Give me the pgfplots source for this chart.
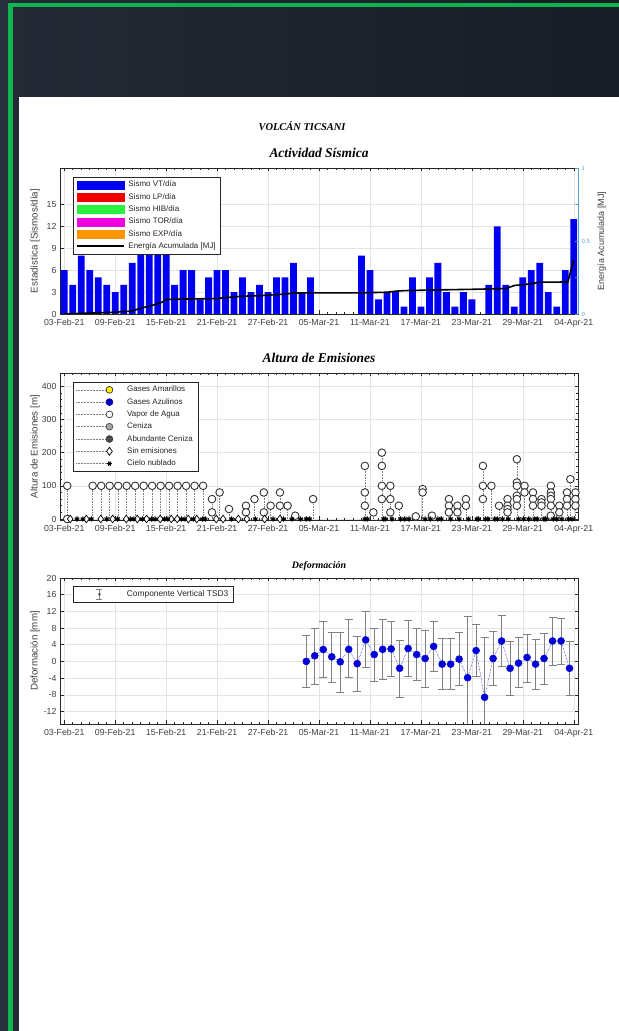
\documentclass[border=0pt]{standalone}
\usepackage{fontspec}
\setmainfont{Liberation Sans}
\newfontfamily\tnr{Liberation Serif}
\usepackage{pgfplots}
\pgfplotsset{compat=1.18}
\usepackage{pgfplotstable}

\definecolor{fondo}{RGB}{24,28,37}
\definecolor{fondoclaro}{RGB}{36,42,53}
\definecolor{franja}{RGB}{40,48,60}
\definecolor{verde}{RGB}{14,180,78}
\definecolor{ejes}{RGB}{38,38,38}
\definecolor{txt}{RGB}{64,64,64}
\definecolor{azulvt}{RGB}{0,0,240}
\definecolor{rojolp}{RGB}{240,0,0}
\definecolor{verdehib}{RGB}{40,240,60}
\definecolor{magtor}{RGB}{240,0,220}
\definecolor{naranja}{RGB}{255,150,0}
\definecolor{celeste}{RGB}{90,160,210}
\definecolor{azulpt}{RGB}{0,0,215}
\definecolor{gris}{RGB}{128,128,128}

% sismos VT por dia (dia 0 = 03-Feb-21)
\pgfplotstableread{
d v
0 6
1 4
2 8
3 6
4 5
5 4
6 3
7 4
8 7
9 10
10 11
11 10
12 9
13 4
14 6
15 6
16 2
17 5
18 6
19 6
20 3
21 5
22 3
23 4
24 3
25 5
26 5
27 7
28 3
29 5
35 8
36 6
37 2
38 3
39 3
40 1
41 5
42 1
43 5
44 7
45 3
46 1
47 3
48 2
50 4
51 12
52 4
53 1
54 5
55 6
56 7
57 3
58 1
59 6
60 13
}\sismos

% energia acumulada [MJ]
\pgfplotstableread{
d e
0 0
2 0.004
4 0.008
6 0.012
8 0.02
9 0.04
10 0.053
11 0.07
11.5 0.08
12 0.099
14 0.102
16 0.104
18 0.106
19 0.112
21 0.122
23 0.125
24 0.129
26 0.136
27 0.143
29 0.145
35 0.145
38 0.149
39 0.156
40 0.16
44 0.165
48 0.169
52 0.174
53 0.195
55 0.207
56 0.218
59.3 0.219
60 0.37
}\energia

% vapor de agua: altura [m]
\pgfplotstableread{
d h
0.35 100
0.35 0
3.35 100
4.35 100
5.35 100
6.35 100
7.35 100
8.35 100
9.35 100
10.35 100
11.35 100
12.35 100
13.35 100
14.35 100
15.35 100
16.35 100
17.4 60
17.4 20
18.3 80
19.4 30
21.4 40
21.4 20
22.4 60
23.5 80
23.5 20
24.3 40
25.4 80
25.4 40
26.3 40
27.2 10
29.3 60
35.4 160
35.4 80
35.4 40
36.4 20
37.4 200
37.4 160
37.4 100
37.4 60
38.4 100
38.4 60
38.4 20
39.4 40
41.4 8
42.2 90
42.2 80
43.3 10
45.3 60
45.3 40
45.3 20
46.3 40
46.3 20
47.3 60
47.3 40
49.3 160
49.3 100
49.3 60
50.3 100
51.2 40
52.2 60
52.2 40
52.2 30
52.2 20
53.3 180
53.3 110
53.3 100
53.3 70
53.3 60
53.3 40
54.2 100
54.2 80
55.2 80
55.2 60
55.2 40
56.2 60
56.2 50
56.2 40
57.3 100
57.3 80
57.3 70
57.3 60
57.3 40
57.3 10
58.3 40
58.3 20
59.2 80
59.2 60
59.2 40
59.6 120
60.2 80
60.2 60
60.2 40
}\vapor

\pgfplotstableread{
d h
0.7 0
2.6 0
4.3 0
5.7 0
7.3 0
8.6 0
9.7 0
11.3 0
12.6 0
13.3 0
14.6 0
15.6 0
17.9 0
18.7 0
20.5 0
21.5 0
23.6 0
25.4 0
}\sinemi

\pgfplotstableread{
d h
1.5 0
2.2 0
3.2 0
5.0 0
6.3 0
7.8 0
8.2 0
9.2 0
10.3 0
10.7 0
11.8 0
12.2 0
13.8 0
14.2 0
15.2 0
16.3 0
16.6 0
19.7 0
22.5 0
24.6 0
25.8 0
26.8 0
27.8 0
28.5 0
28.9 0
35.4 0
35.7 0
37.6 0
37.8 0
38.6 0
39.6 0
40.1 0
40.6 0
42.5 0
43.1 0
44.0 0
44.4 0
45.5 0
46.5 0
47.6 0
48.6 0
48.8 0
49.6 0
49.9 0
50.7 0
51.0 0
51.6 0
52.3 0
53.5 0
54.1 0
54.7 0
55.4 0
55.7 0
56.5 0
56.7 0
57.6 0
58.0 0
58.6 0
59.4 0
59.8 0
}\nublado

% deformacion vertical TSD3 [mm]
\pgfplotstableread{
d v ep em
28.5 0 6.3 6.1
29.5 1.35 6.65 6.75
30.5 2.85 6.65 6.55
31.5 1.1 6.0 6.1
32.5 -0.1 7.2 7.2
33.5 2.9 7.1 6.8
34.5 -0.55 6.55 6.65
35.5 5.15 6.75 6.5
36.5 1.65 6.35 6.4
37.5 2.9 7.2 7.1
38.5 3.0 6.7 6.5
39.5 -1.65 6.8 6.9
40.5 3.1 6.7 6.7
41.5 1.65 6.25 6.25
42.5 0.7 6.8 6.9
43.5 3.6 6.1 6.0
44.5 -0.65 6.15 6.05
45.5 -0.65 6.15 6.05
46.5 0.55 6.45 6.35
47.5 -3.9 14.8 14.8
48.5 2.6 6.2 6.2
49.5 -8.6 14.4 14.4
50.5 0.7 6.5 6.5
51.5 4.9 6.1 6.1
52.5 -1.65 6.55 6.45
53.5 -0.4 6.1 5.9
54.5 0.95 5.65 5.85
55.5 -0.65 5.95 5.95
56.5 0.7 6.1 6.1
57.5 4.9 5.6 5.85
58.5 4.9 5.4 5.7
59.5 -1.65 6.55 6.5
}\deform

\pgfplotsset{
  panel/.style={
    scale only axis, width=518bp, height=146bp,
    xmin=-0.5, xmax=60.5,
    xtick={0,6,...,60},
    xticklabels={03-Feb-21,09-Feb-21,15-Feb-21,21-Feb-21,27-Feb-21,05-Mar-21,11-Mar-21,17-Mar-21,23-Mar-21,29-Mar-21,04-Apr-21},
    minor x tick num=5,
    tick align=inside,
    major tick length=3.5bp, minor tick length=2bp,
    xmajorgrids, ymajorgrids,
    major grid style={gray!22, line width=0.5bp},
    axis line style={ejes, line width=0.6bp},
    tick style={ejes, line width=0.5bp},
    tick label style={font=\fontsize{8.8}{10}\selectfont, text=txt},
    xticklabel style={yshift=-1.5bp},
    /pgf/number format/assume math mode=true,
    every axis y label/.style={at={(axis description cs:-0.0483,0.5)}, rotate=90, anchor=center, font=\fontsize{9.8}{11}\selectfont, text=txt},
    title style={at={(axis description cs:0.5,1)}, anchor=base, yshift=5bp, font=\tnr\bfseries\itshape\fontsize{13.5}{15}\selectfont},
    legend cell align=left,
    legend style={anchor=north west, draw=ejes, line width=0.5bp, fill=white,
      font=\fontsize{8}{9}\selectfont, text=black!85,
      inner xsep=3bp, inner ysep=2bp, row sep=0.5bp, column sep=1.5bp,
      nodes={inner xsep=2bp, inner ysep=2bp, text height=6bp, text depth=1.8bp}},
  },
}

\begin{document}
\begin{tikzpicture}[x=1bp,y=1bp]
\useasboundingbox (0,0) rectangle (619,1031);
% fondo de la pagina
\shade[left color=fondoclaro, right color=fondo] (0,0) rectangle (619,1031);
\fill[franja] (0,0) rectangle (8,1031);
\fill[verde] (8,1023.7) rectangle (619,1028.3);
\fill[verde] (8,0) rectangle (12.7,1028.3);
\fill[white] (18.7,0) rectangle (619,934);
\node[font=\tnr\bfseries\itshape\fontsize{10.5}{12}\selectfont] at (302,905) {VOLCÁN TICSANI};

% ---- Actividad sismica ----
\begin{axis}[panel, at={(60bp,717bp)}, anchor=south west,
  ymin=0, ymax=20, ytick={0,3,...,15}, ytick pos=left,
  ylabel={Estadística [Sismos/día]},
  title={Actividad Sísmica},
  legend style={at={(0.0245,0.94)}}]
\addlegendimage{legend image code/.code={\fill[azulvt] (0bp,-4bp) rectangle (47bp,4bp);}}
\addlegendimage{legend image code/.code={\fill[rojolp] (0bp,-4bp) rectangle (47bp,4bp);}}
\addlegendimage{legend image code/.code={\fill[verdehib] (0bp,-4bp) rectangle (47bp,4bp);}}
\addlegendimage{legend image code/.code={\fill[magtor] (0bp,-4bp) rectangle (47bp,4bp);}}
\addlegendimage{legend image code/.code={\fill[naranja] (0bp,-4bp) rectangle (47bp,4bp);}}
\addlegendimage{legend image code/.code={\draw[black, line width=2bp] (0bp,0bp) -- (47bp,0bp);}}
\addplot[ybar, bar width=0.8, fill=azulvt, draw=none, forget plot] table[x=d, y=v] {\sismos};
\legend{Sismo VT/día, Sismo LP/día, Sismo HIB/día, Sismo TOR/día, Sismo EXP/día, Energía Acumulada [MJ]}
\end{axis}

\begin{axis}[scale only axis, width=518bp, height=146bp, at={(60bp,717bp)}, anchor=south west,
  xmin=-0.5, xmax=60.5, hide x axis, axis y line*=right,
  ymin=0, ymax=1, ytick={0,0.25,0.5,0.75,1}, yticklabels={0,,0.5,,1},
  tick align=inside, major tick length=3.5bp,
  y axis line style={celeste, line width=0.6bp}, ytick style={celeste, line width=0.5bp},
  yticklabel style={font=\fontsize{6}{7}\selectfont, text=celeste},
  /pgf/number format/assume math mode=true,
  ylabel={Energía Acumulada [MJ]},
  every axis y label/.style={at={(axis description cs:1.0457,0.5)}, rotate=90, anchor=center, font=\fontsize{9}{10}\selectfont, text=txt}]
\addplot[black, line width=1.6bp] table[x=d, y=e] {\energia};
\end{axis}

% ---- Altura de emisiones ----
\begin{axis}[panel, height=147bp, at={(60bp,511bp)}, anchor=south west,
  ymin=-3, ymax=440, ytick={0,100,...,400}, minor y tick num=4,
  ylabel={Altura de Emisiones [m]}, title={Altura de Emisiones}, clip=false,
  legend style={at={(0.025,0.941)}}]
\addlegendimage{legend image code/.code={\draw[gris, densely dotted] (0bp,0bp) -- (33bp,0bp); \draw[black!80, fill=yellow, line width=0.7bp] (33bp,0bp) circle (3.4bp); \path (47bp,0bp);}}
\addlegendimage{legend image code/.code={\draw[gris, densely dotted] (0bp,0bp) -- (33bp,0bp); \draw[blue!70!black, fill=blue!75!black, line width=0.7bp] (33bp,0bp) circle (3.4bp); \path (47bp,0bp);}}
\addlegendimage{legend image code/.code={\draw[gris, densely dotted] (0bp,0bp) -- (33bp,0bp); \draw[black!80, fill=white, line width=0.7bp] (33bp,0bp) circle (3.4bp); \path (47bp,0bp);}}
\addlegendimage{legend image code/.code={\draw[gris, densely dotted] (0bp,0bp) -- (33bp,0bp); \draw[black!70, fill=gray!70, line width=0.7bp] (33bp,0bp) circle (3.4bp); \path (47bp,0bp);}}
\addlegendimage{legend image code/.code={\draw[gris, densely dotted] (0bp,0bp) -- (33bp,0bp); \draw[black!80, fill=black!70, line width=0.7bp] (33bp,0bp) circle (3.4bp); \path (47bp,0bp);}}
\addlegendimage{legend image code/.code={\draw[gris, densely dotted] (0bp,0bp) -- (30bp,0bp); \draw[black, fill=white, line width=0.7bp] (33bp,4bp) -- (35.9bp,0bp) -- (33bp,-4bp) -- (30.1bp,0bp) -- cycle; \path (47bp,0bp);}}
\addlegendimage{legend image code/.code={\draw[gris, densely dotted] (0bp,0bp) -- (31bp,0bp); \draw[black, line width=1bp] (30.6bp,0bp) -- (35.4bp,0bp) (31.8bp,-2.1bp) -- (34.2bp,2.1bp) (31.8bp,2.1bp) -- (34.2bp,-2.1bp); \path (47bp,0bp);}}
\addplot[ycomb, gris, densely dotted, line width=0.6bp, mark=*, mark size=3.8bp,
  mark options={solid, draw=black!80, fill=white, line width=0.9bp}, forget plot] table[x=d, y=h] {\vapor};
\addplot[only marks, mark=diamond*, mark size=3.8bp,
  mark options={draw=black, fill=white, line width=0.7bp}, forget plot] table[x=d, y=h] {\sinemi};
\addplot[only marks, mark=asterisk, mark size=2.6bp,
  mark options={black, line width=1.1bp}, forget plot] table[x=d, y=h] {\nublado};
\legend{Gases Amarillos, Gases Azulinos, Vapor de Agua, Ceniza, Abundante Ceniza, Sin emisiones, Cielo nublado}
\end{axis}

% ---- Deformacion ----
\begin{axis}[panel, at={(60bp,307bp)}, anchor=south west,
  ymin=-15, ymax=20, ytick={-12,-8,...,20},
  ylabel={Deformación [mm]}, title={Deformación},
  title style={font=\tnr\bfseries\itshape\fontsize{10}{12}\selectfont, yshift=-1bp},
  legend style={at={(0.0245,0.945)}, font=\fontsize{8.4}{9}\selectfont}]
\addlegendimage{legend image code/.code={\draw[gris, line width=0.6bp] (23.3bp,-5bp) -- (23.3bp,5bp) (20.3bp,5bp) -- (26.3bp,5bp) (20.3bp,-5bp) -- (26.3bp,-5bp); \fill[black!70] (23.3bp,0bp) circle (1bp); \path (0bp,0bp) (47bp,0bp);}}
\addplot[azulpt, densely dotted, line width=0.5bp, mark=*, mark size=3.5bp,
  mark options={solid, fill=azulpt, draw=azulpt}, forget plot,
  error bars/.cd, y dir=both, y explicit,
  error bar style={gris, solid, line width=0.6bp},
  error mark options={gris, solid, rotate=90, mark size=4bp, line width=0.6bp}]
  table[x=d, y=v, y error plus=ep, y error minus=em] {\deform};
\legend{Componente Vertical TSD3}
\end{axis}
\end{tikzpicture}
\end{document}
